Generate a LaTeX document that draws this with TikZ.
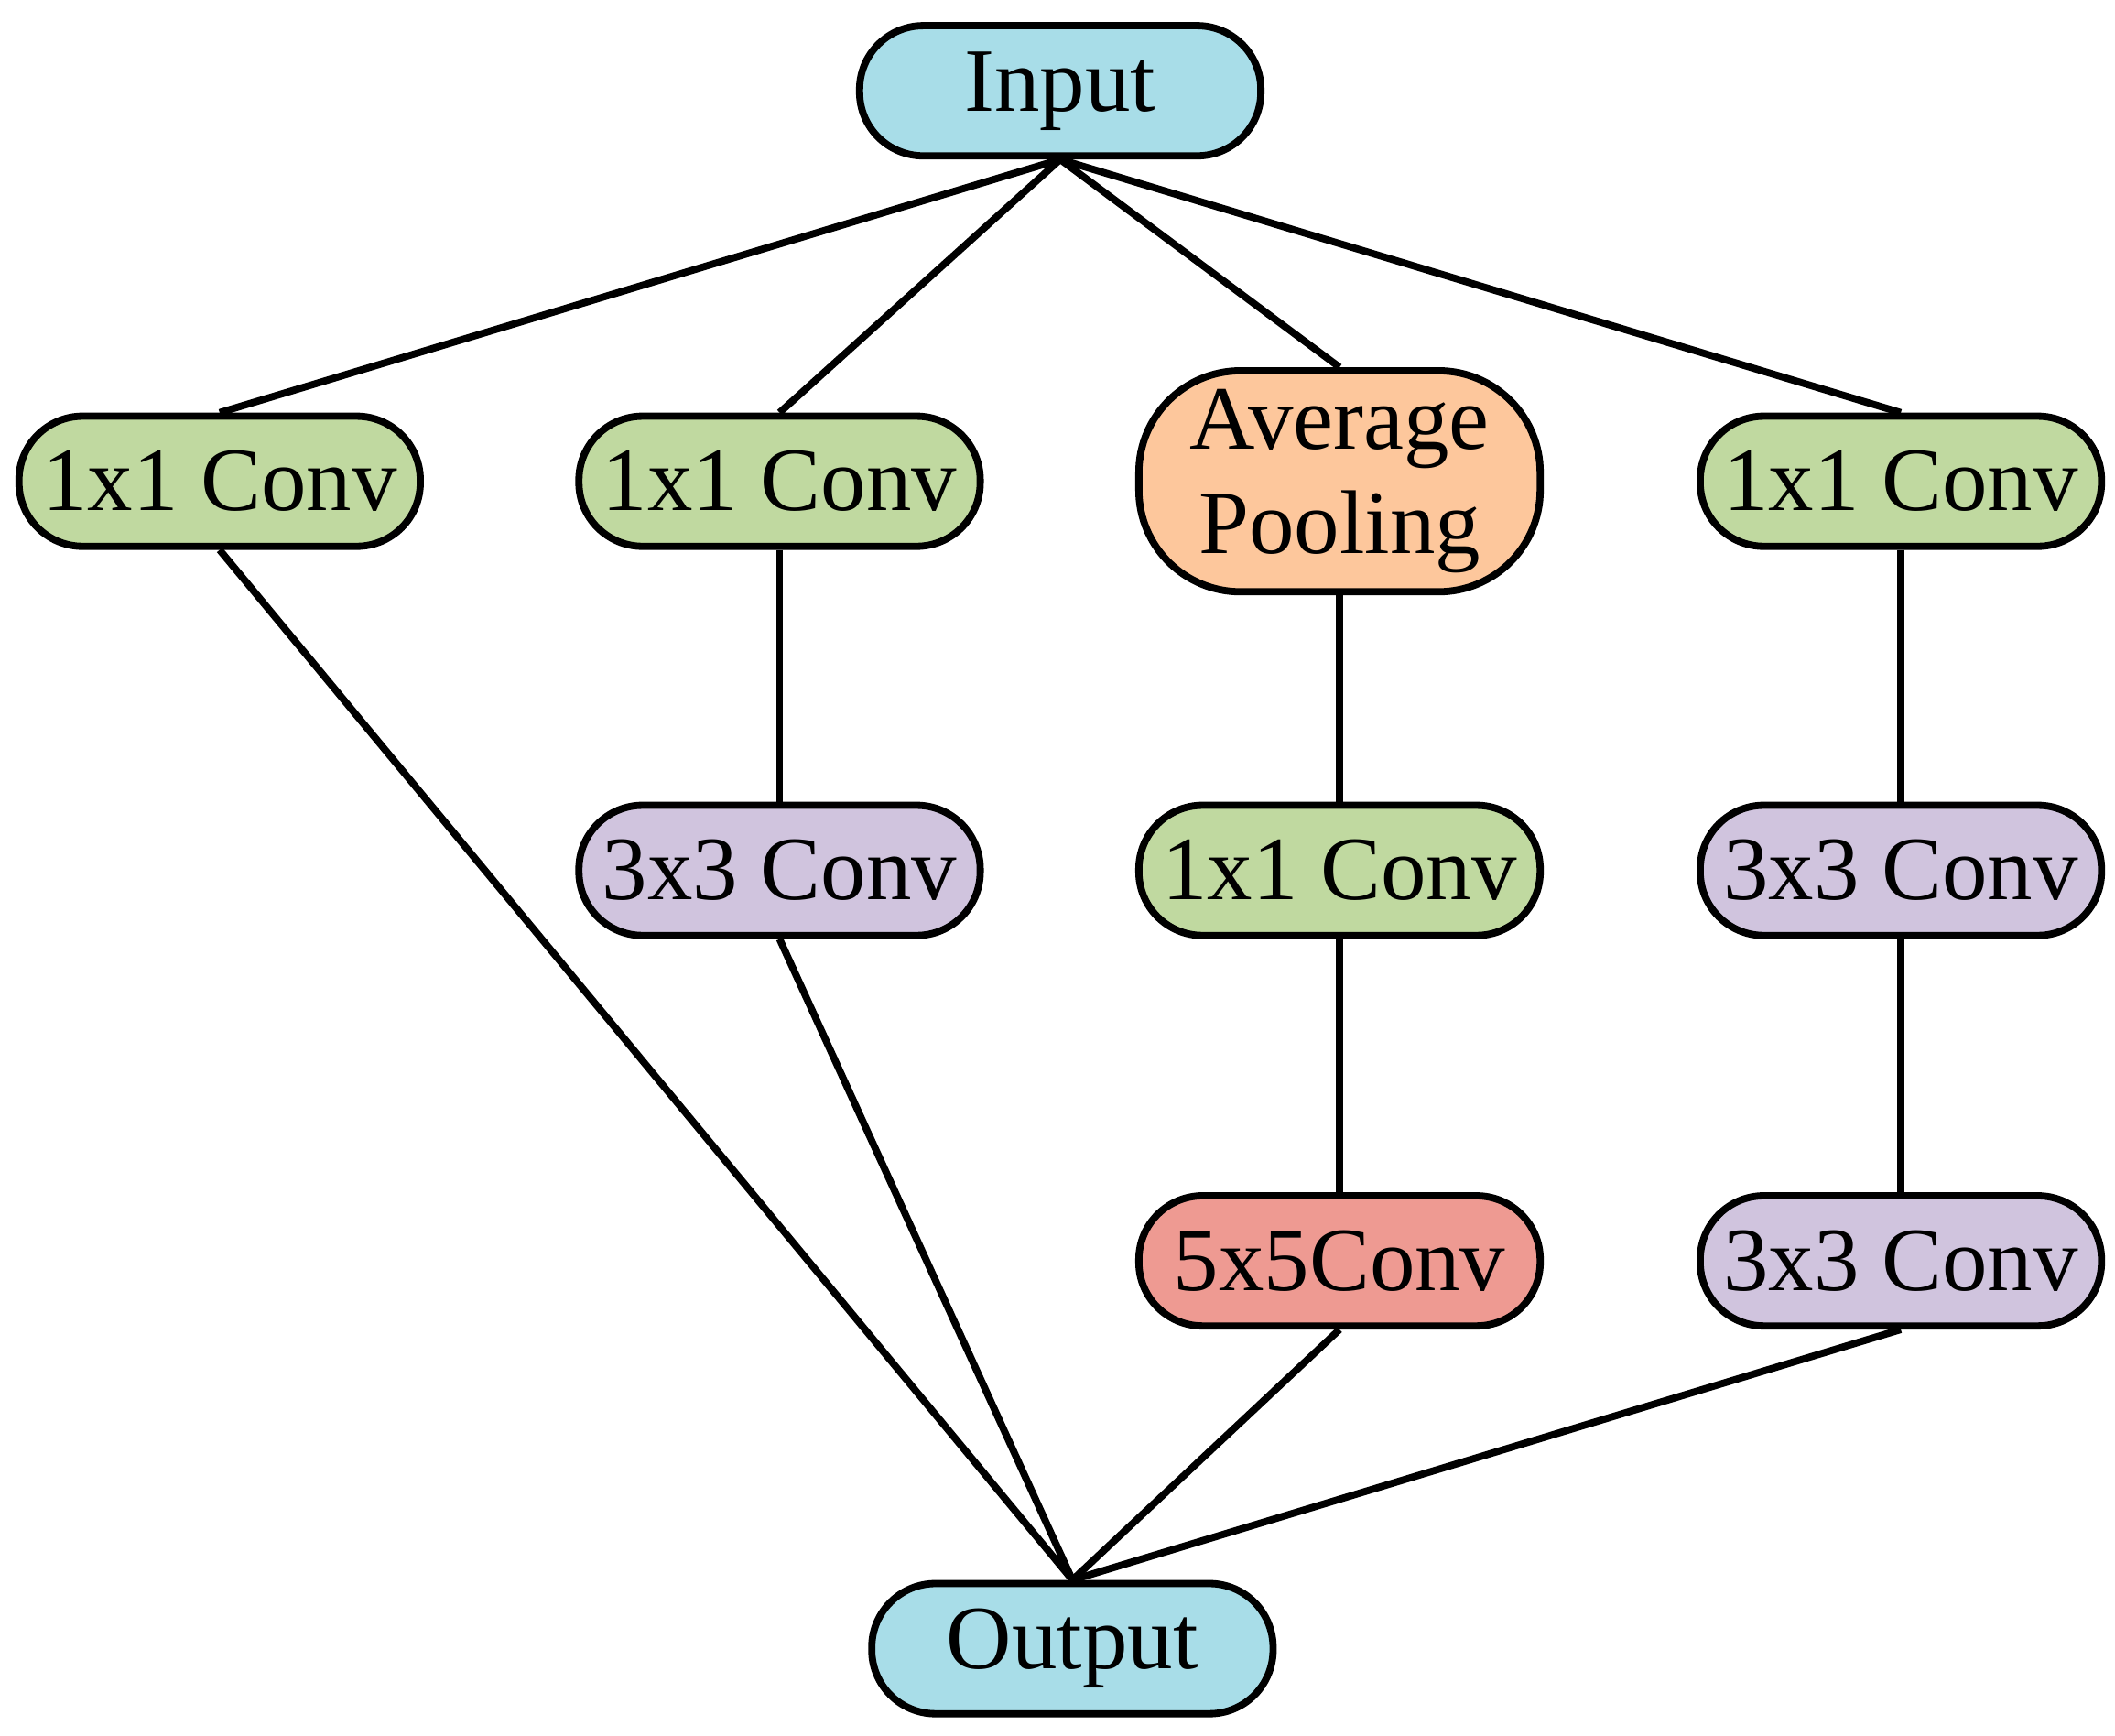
\documentclass[tikz,border=0pt]{standalone}
\usepackage{fontspec}
\setmainfont{Liberation Serif}
\usetikzlibrary{positioning}
\definecolor{cblue}{HTML}{A8DDE8}
\definecolor{cgreen}{HTML}{C0D9A0}
\definecolor{corange}{HTML}{FDC79C}
\definecolor{cpurple}{HTML}{D0C4DE}
\definecolor{cred}{HTML}{EE9A92}
\tikzset{
    block/.style = {rectangle, rounded corners=0.47cm, draw=black, line width=1.5pt, align=center, minimum width=2.96cm, minimum height=0.96cm, inner sep=0pt, font=\fontsize{19}{22}\selectfont},
    edgen/.style = {-, line width=1.5pt},
}
\begin{document}
\begin{tikzpicture}
\useasboundingbox (0,0) rectangle (15.6,12.8);
\node[block,fill=cblue] at (7.82,12.13) (in) {Input};
\node[block,fill=cgreen] at (1.62,9.25) (a1) {1x1 Conv};
\node[block,fill=cgreen] at (5.75,9.25) (b1) {1x1 Conv};
\node[block,fill=corange,minimum height=1.63cm,rounded corners=0.75cm] at (9.88,9.25) (c1) {Average\\Pooling};
\node[block,fill=cgreen] at (14.02,9.25) (d1) {1x1 Conv};
\node[block,fill=cpurple] at (5.75,6.38) (b2) {3x3 Conv};
\node[block,fill=cgreen] at (9.88,6.38) (c2) {1x1 Conv};
\node[block,fill=cpurple] at (14.02,6.38) (d2) {3x3 Conv};
\node[block,fill=cred] at (9.88,3.50) (c3) {5x5Conv};
\node[block,fill=cpurple] at (14.02,3.50) (d3) {3x3 Conv};
\node[block,fill=cblue] at (7.91,0.64) (out) {Output};
%
\draw[edgen] (in.south) -- (a1.north);
\draw[edgen] (in.south) -- (b1.north);
\draw[edgen] (in.south) -- (c1.north);
\draw[edgen] (in.south) -- (d1.north);
%
\draw[edgen] (b1) -- (b2);
\draw[edgen] (c1) -- (c2);
\draw[edgen] (c2) -- (c3);
\draw[edgen] (d1) -- (d2);
\draw[edgen] (d2) -- (d3);
%
\draw[edgen] (a1.south) -- (out.north);
\draw[edgen] (b2.south) -- (out.north);
\draw[edgen] (c3.south) -- (out.north);
\draw[edgen] (d3.south) -- (out.north);
\end{tikzpicture}
\end{document}
